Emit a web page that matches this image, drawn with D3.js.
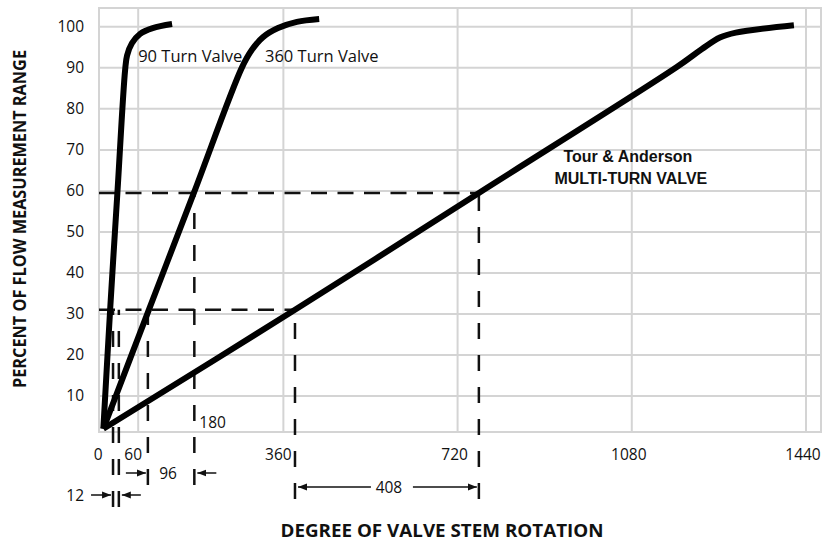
<!DOCTYPE html>
<html>
<head>
<meta charset="utf-8">
<script src="https://cdn.jsdelivr.net/npm/d3@7"></script>
<style>
body { margin: 0; background: #fff; }
svg { display: block; }
text { font-family: "Open Sans", sans-serif; fill: #111; }
</style>
</head>
<body>
<script>
// flow % against stem rotation (deg)
var turn90Deg = [-12, 2, 17, 33, 37, 47, 64, 90, 130];
var turn90Pct = [2, 31, 59.5, 89.5, 93, 96, 98.3, 99.7, 100.7];
var turn360Deg = [-12, 82, 175, 274, 295, 318, 349, 388, 434];
var turn360Pct = [2, 31, 59.5, 90, 94.4, 97.5, 99.7, 101.2, 101.9];
var multiDeg = [-12, 384, 764, 1173, 1225, 1262, 1295, 1415];
var multiPct = [2, 31, 59.5, 90.2, 94.6, 97.4, 98.6, 100.4];

// dashed read-off lines
var refLevels = [31, 59.5];
var refLevelEnds = [384, 764];
var refDeg = [8, 20, 80, 176, 384, 764];
var refTop = [31, 31, 31, 59.5, 31, 59.5];
var refSpan = [0, 0, 1, 1, 2, 2];

// span annotations
var spanLabels = ["12", "96", "408"];
var spanFrom = [8, 80, 384];
var spanTo = [20, 176, 764];

var xTicks = [0, 60, 360, 720, 1080, 1440];
var xGrid = [60, 360, 720, 1080, 1440];
var yTicks = [10, 20, 30, 40, 50, 60, 70, 80, 90, 100];

const width = 831, height = 542;
const margin = { left: 99, right: 10, top: 8, bottom: 110 };
const pw = width - margin.left - margin.right;
const ph = height - margin.top - margin.bottom;
const rowY = [495, 473, 487];

const x = d3.scaleLinear().domain([-21, 1471]).range([0, pw]);
const y = d3.scaleLinear().domain([1.2, 104.6]).range([ph, 0]);

const svg = d3.select("body").append("svg")
    .attr("width", width).attr("height", height);

const defs = svg.append("defs");
defs.append("marker")
    .attr("id", "arr")
    .attr("markerUnits", "userSpaceOnUse")
    .attr("markerWidth", 10).attr("markerHeight", 8)
    .attr("refX", 9).attr("refY", 4)
    .attr("orient", "auto")
  .append("path")
    .attr("d", "M0,0.5 L9,4 L0,7.5 Z")
    .attr("fill", "#111");

const g = svg.append("g")
    .attr("transform", `translate(${margin.left}, ${margin.top})`);

// grid
g.append("g").selectAll("line").data(yTicks).join("line")
    .attr("x1", 0).attr("x2", pw)
    .attr("y1", d => y(d)).attr("y2", d => y(d))
    .attr("stroke", "#d4d4d4").attr("stroke-width", 2);
g.append("g").selectAll("line").data(xGrid).join("line")
    .attr("x1", d => x(d)).attr("x2", d => x(d))
    .attr("y1", 0).attr("y2", ph)
    .attr("stroke", "#d4d4d4").attr("stroke-width", 2);
g.append("rect")
    .attr("width", pw).attr("height", ph)
    .attr("fill", "none").attr("stroke", "#d4d4d4").attr("stroke-width", 2);

// tick labels
const xNudge = d => d === 0 ? -11 : (d === 60 || d === 360 ? -5 : -3);
g.append("g").selectAll("text").data(xTicks).join("text")
    .attr("x", d => x(d) + xNudge(d))
    .attr("y", ph + 28)
    .attr("text-anchor", "middle")
    .style("font-size", "15.5px")
    .text(d => d);
g.append("g").selectAll("text").data(yTicks).join("text")
    .attr("x", -15)
    .attr("y", d => y(d))
    .attr("dy", "0.35em")
    .attr("text-anchor", "end")
    .style("font-size", "15.5px")
    .text(d => d);

// dashed horizontals
g.append("g").selectAll("line").data(refLevels).join("line")
    .attr("x1", 0).attr("x2", (d, i) => x(refLevelEnds[i]))
    .attr("y1", d => y(d)).attr("y2", d => y(d))
    .attr("stroke", "#111").attr("stroke-width", 2.5)
    .attr("stroke-dasharray", "16,10.5");

// dashed verticals, drawn bottom-up so the dash ends at the annotation row
g.append("g").selectAll("line").data(refDeg).join("line")
    .attr("x1", d => x(d)).attr("x2", d => x(d))
    .attr("y1", (d, i) => rowY[refSpan[i]] + 12 - margin.top)
    .attr("y2", (d, i) => y(refTop[i]))
    .attr("stroke", "#111").attr("stroke-width", 2.5)
    .attr("stroke-dasharray", "16,16");

// curves
const line = d3.line()
    .x(d => x(d[0])).y(d => y(d[1]))
    .curve(d3.curveCatmullRom.alpha(0.5));
const series = [
  d3.zip(turn90Deg, turn90Pct),
  d3.zip(turn360Deg, turn360Pct),
  d3.zip(multiDeg, multiPct)
];
g.append("g").selectAll("path").data(series).join("path")
    .attr("d", line)
    .attr("fill", "none")
    .attr("stroke", "#000")
    .attr("stroke-width", 6)
    .attr("stroke-linejoin", "round");

// series labels
g.append("text").attr("x", x(60)).attr("y", y(91.5))
    .style("font-size", "16.5px")
    .text("90 Turn Valve");
g.append("text").attr("x", x(322)).attr("y", y(91.5))
    .style("font-size", "16.5px")
    .text("360 Turn Valve");
g.append("text").attr("x", x(1072)).attr("y", y(67))
    .attr("text-anchor", "middle")
    .style("font-family", "'Liberation Sans', Arial, sans-serif")
    .style("font-size", "16px").style("font-weight", "bold")
    .text("Tour & Anderson");
g.append("text").attr("x", x(1078)).attr("y", y(61.7))
    .attr("text-anchor", "middle")
    .style("font-family", "'Liberation Sans', Arial, sans-serif")
    .style("font-size", "16px").style("font-weight", "bold")
    .text("MULTI-TURN VALVE");

g.append("text").attr("x", x(176) + 5).attr("y", ph - 4)
    .style("font-size", "15.5px")
    .text("180");

// span annotations
spanLabels.forEach(function (lab, i) {
  const a = x(spanFrom[i]), b = x(spanTo[i]);
  const ry = rowY[i] - margin.top;
  const ann = g.append("g");
  const arrow = (x1, x2) => ann.append("line")
      .attr("x1", x1).attr("x2", x2).attr("y1", ry).attr("y2", ry)
      .attr("stroke", "#111").attr("stroke-width", 1.5)
      .attr("marker-end", "url(#arr)");
  let tx, anchor = "middle";
  if (i < 2) {
    // outside arrows pointing in
    arrow(a - 22, a - 2);
    arrow(b + 22, b + 3);
    if (i === 0) { tx = a - 29; anchor = "end"; } else { tx = (a + b) / 2 - 3; }
  } else {
    const m = (a + b) / 2 + 2;
    arrow(m - 18, a + 3);
    arrow(m + 24, b - 2);
    tx = m;
  }
  ann.append("text").attr("x", tx).attr("y", ry).attr("dy", "0.36em")
      .attr("text-anchor", anchor)
      .style("font-size", "15.5px")
      .text(lab);
});

// axis titles
svg.append("text")
    .attr("transform", `translate(26, ${margin.top + ph / 2 - 1}) rotate(-90)`)
    .attr("text-anchor", "middle")
    .attr("textLength", 338).attr("lengthAdjust", "spacingAndGlyphs")
    .style("font-size", "17px").style("font-weight", "bold")
    .text("PERCENT OF FLOW MEASUREMENT RANGE");
svg.append("text")
    .attr("x", 442).attr("y", 537)
    .attr("text-anchor", "middle")
    .attr("textLength", 323).attr("lengthAdjust", "spacingAndGlyphs")
    .style("font-size", "17px").style("font-weight", "bold")
    .text("DEGREE OF VALVE STEM ROTATION");
</script>
</body>
</html>
